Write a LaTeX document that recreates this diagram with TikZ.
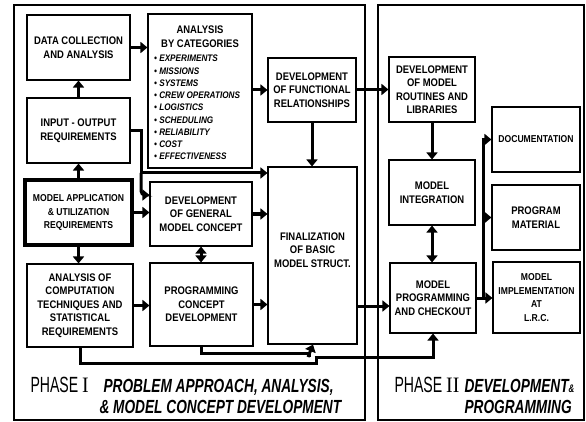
\documentclass[tikz,border=0pt]{standalone}
\usepackage{fontspec}
\setmainfont{Liberation Sans}
\newfontfamily\boxfont[FakeStretch=0.86]{Liberation Sans}
\newfontfamily\handfont[FakeStretch=0.72]{Liberation Sans}
\newfontfamily\phasefam[FakeStretch=0.64]{Liberation Sans}
\newfontfamily\numfont[FakeStretch=0.9]{Liberation Serif}
\usetikzlibrary{arrows.meta, calc}

\begin{document}
\begin{tikzpicture}[x=1pt, y=-1pt, >={Triangle[width=11pt,length=7pt]},
    box/.style={draw, line width=1.1pt, align=center, inner sep=1pt,
        font=\boxfont\bfseries\fontsize{11}{13.5}\selectfont},
    smalltext/.style={font=\boxfont\bfseries\fontsize{10}{13.5}\selectfont},
    boxsize/.style 2 args={minimum width=#1pt, minimum height=#2pt},
    conn/.style={line width=3pt},
    arr/.style={conn, ->},
    frame/.style={line width=2pt},
    phasefont/.style={font=\phasefam\fontsize{22}{22}\selectfont},
    titlefont/.style={font=\handfont\bfseries\itshape\fontsize{19}{19}\selectfont}]

\useasboundingbox (0,0) rectangle (586,422);

% === Phase frames ===
\draw[frame] (14,5) rectangle (365,420);
\draw[frame] (378,5) rectangle (584,420);

% === Phase I ===
\node[box, boxsize={103}{65}] (dc) at (78.5,47.5) {DATA COLLECTION\\AND ANALYSIS};
\node[box, boxsize={104}{154}] (abc) at (200,91) {};
\node[align=center, font=\boxfont\bfseries\fontsize{11}{14}\selectfont] (abctitle) at (200,37) {ANALYSIS\\BY CATEGORIES};
\node[anchor=north west, align=left, inner sep=0pt,
      font=\boxfont\bfseries\itshape\fontsize{9.5}{12.25}\selectfont] (abclist) at (154,55) {
    \textbullet\ EXPERIMENTS\\
    \textbullet\ MISSIONS\\
    \textbullet\ SYSTEMS\\
    \textbullet\ CREW OPERATIONS\\
    \textbullet\ LOGISTICS\\
    \textbullet\ SCHEDULING\\
    \textbullet\ RELIABILITY\\
    \textbullet\ COST\\
    \textbullet\ EFFECTIVENESS};
\node[box, boxsize={88}{64}] (dfr) at (312,90) {DEVELOPMENT\\OF FUNCTIONAL\\RELATIONSHIPS};
\node[box, boxsize={103}{65}] (io) at (78.5,130.5) {INPUT - OUTPUT\\REQUIREMENTS};
\node[box, boxsize={107}{65}, line width=3.5pt, smalltext] (mau) at (78.5,212.5) {MODEL APPLICATION\\\& UTILIZATION\\REQUIREMENTS};
\node[box, boxsize={102}{64}] (gmc) at (201,214) {DEVELOPMENT\\OF GENERAL\\MODEL CONCEPT};
\node[box, boxsize={89}{177}] (fin) at (312.5,255.5) {};
\node[align=center, font=\boxfont\bfseries\fontsize{11}{13.5}\selectfont] (fintext) at (312.5,250) {FINALIZATION\\OF BASIC\\MODEL STRUCT.};
\node[box, boxsize={106}{83}] (act) at (80,305.5) {ANALYSIS OF\\COMPUTATION\\TECHNIQUES AND\\STATISTICAL\\REQUIREMENTS};
\node[box, boxsize={103}{83}] (pcd) at (201.5,304.5) {PROGRAMMING\\CONCEPT\\DEVELOPMENT};

% === Phase II ===
\node[box, boxsize={86}{65}] (dmr) at (432,89.5) {DEVELOPMENT\\OF MODEL\\ROUTINES AND\\LIBRARIES};
\node[box, boxsize={86}{65}] (mi) at (432,192.5) {MODEL\\INTEGRATION};
\node[box, boxsize={86}{70}] (mpc) at (433,298) {MODEL\\PROGRAMMING\\AND CHECKOUT};
\node[box, boxsize={88}{65}, smalltext] (doc) at (536,139.5) {DOCUMENTATION};
\node[box, boxsize={88}{65}] (pm) at (536,217.5) {PROGRAM\\MATERIAL};
\node[box, boxsize={87}{71}, smalltext] (mim) at (536.5,297.5) {MODEL\\IMPLEMENTATION\\AT\\L.R.C.};

% === Connectors, Phase I ===
\draw[arr] (io) -- (dc);
\draw[arr] (mau) -- (io);
\draw[arr] (dc.east) -- (dc.east -| abc.west);
\draw[arr] (dfr.west -| abc.east) -- (dfr.west);
\coordinate (iobend) at (141,173);
\draw[arr] (io.east) -| (iobend) -- (iobend -| fin.west);
\draw[arr, rounded corners=4pt] (iobend) |- (gmc.west |- 0,195);
\draw[arr] (mau.east) -- (mau.east -| gmc.west);
\draw[arr] (gmc.east) -- (gmc.east -| fin.west);
\draw[arr] (dfr.south) -- (dfr.south |- fin.north);
\draw[arr] (mau.south) -- (mau.south |- act.north);
\draw[<->, conn] (gmc.south) -- (gmc.south |- pcd.north);
\draw[arr] (act.east) -- (act.east -| pcd.west);
\draw[arr] (pcd.east) -- (pcd.east -| fin.west);

% bottom return lines
\coordinate (loopjoin) at (313,357);
\draw[conn] (act.south) |- ($(loopjoin)+(3,6)$) -- ($(loopjoin)+(3,0)$);
\draw[conn] (pcd.south) |- ($(loopjoin)+(-4,-4)$) -- ($(loopjoin)+(-4,0)$);
\draw[arr] ($(loopjoin)+(-5,0)$) -- (loopjoin |- fin.south);
\draw[arr] ($(loopjoin)+(1.5,0)$) -| (mpc.south);

% === Connectors, Phase II ===
\draw[arr] (fin.east |- 0,306) -- (mpc.west |- 0,306);
\draw[arr] (dfr.east |- dmr.west) -- (dmr.west);
\draw[arr] (dmr) -- (mi);
\draw[<->, conn] (mi.south) -- (mi.south |- mpc.north);
\coordinate (fan) at (483,298);
\draw[conn] (mpc.east) -- (fan) -- (fan |- doc.west);
\draw[arr] ($(fan |- doc.west)+(-1.5,0)$) -- (doc.west);
\draw[arr] (fan |- pm.west) -- (pm.west);
\draw[arr] (fan) -- (fan -| mim.west);

% === Phase labels ===
\node[anchor=base west, phasefont] (phaseone) at (27,392) {PHASE {\numfont I}};
\node[anchor=base west, titlefont] (phaseonetitle) at (100,392) {PROBLEM APPROACH, ANALYSIS,};
\node[anchor=base west, titlefont] (phaseonetitleb) at (96,413) {\& MODEL CONCEPT DEVELOPMENT};
\node[anchor=base west, phasefont] (phasetwo) at (391,392) {PHASE {\numfont II}};
\node[anchor=base west, titlefont] (phasetwotitle) at (461,392) {DEVELOPMENT{\fontsize{11}{11}\selectfont\&}};
\node[anchor=base west, titlefont] (phasetwotitleb) at (461,413) {PROGRAMMING};

\end{tikzpicture}
\end{document}
